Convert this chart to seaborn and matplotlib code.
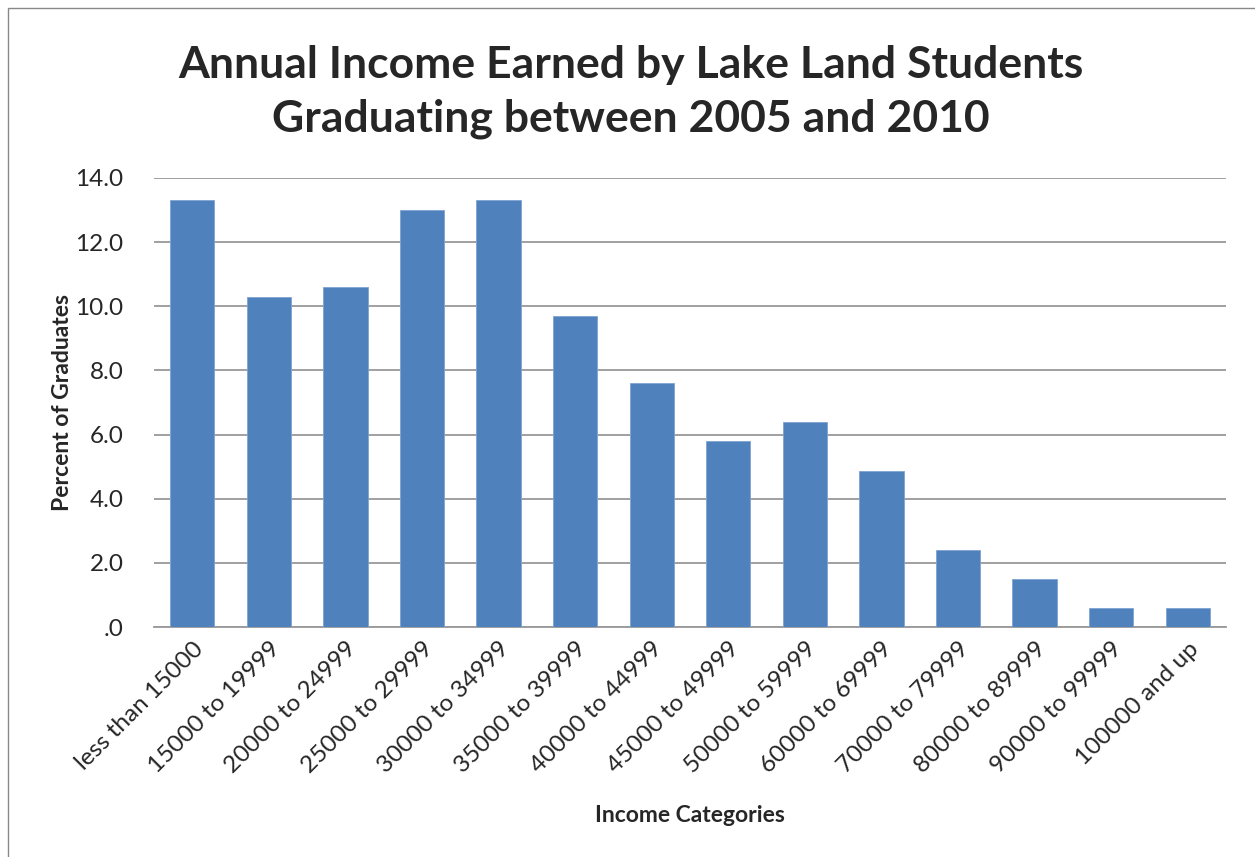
import numpy as np
import pandas as pd
import seaborn as sns
import matplotlib
import matplotlib.pyplot as plt
from matplotlib.patches import Rectangle

categories = ['less than 15000', '15000 to 19999', '20000 to 24999', '25000 to 29999',
              '30000 to 34999', '35000 to 39999', '40000 to 44999', '45000 to 49999',
              '50000 to 59999', '60000 to 69999', '70000 to 79999', '80000 to 89999',
              '90000 to 99999', '100000 and up']
percents = [13.3, 10.3, 10.6, 13.0, 13.3, 9.7, 7.6, 5.8, 6.4, 4.85, 2.4, 1.5, 0.6, 0.6]
yticks = [0, 2, 4, 6, 8, 10, 12, 14]
ytick_labels = ['.0', '2.0', '4.0', '6.0', '8.0', '10.0', '12.0', '14.0']

df = pd.DataFrame({'Income': categories, 'Percent': percents})

sns.set_style('white')
plt.rcParams['font.family'] = ['Lato', 'DejaVu Sans']

fig = plt.figure(figsize=(12.55, 8.57), dpi=100)
ax = fig.add_axes([154 / 1255, 1 - 627 / 857, (1226 - 154) / 1255, (627 - 178) / 857])

sns.barplot(x='Income', y='Percent', data=df, color='#4F81BD', width=0.58,
            saturation=1, edgecolor='#7FA3D3', linewidth=0.6, ax=ax, zorder=3)

ax.set_ylim(0, 14)
ax.set_xlim(-0.5, len(categories) - 0.5)
ax.set_yticks(yticks)
ax.set_yticklabels(ytick_labels, fontsize=17.5)
ax.yaxis.grid(True, color='#999999', linewidth=1.3, zorder=0)
ax.set_axisbelow(True)
for s in ['top', 'right', 'left']:
    ax.spines[s].set_visible(False)
ax.spines['bottom'].set_color('#999999')
ax.spines['bottom'].set_linewidth(1.3)
ax.tick_params(axis='y', length=0, pad=22)
ax.tick_params(axis='x', length=0, pad=8)
plt.setp(ax.get_xticklabels(), rotation=45, ha='right', rotation_mode='anchor', fontsize=17.5)

ax.set_xlabel('Income Categories', fontsize=16.5, fontweight='bold', labelpad=20)
ax.set_ylabel('Percent of Graduates', fontsize=16.5, fontweight='bold', labelpad=2)

fig.text(0.503, 0.893, 'Annual Income Earned by Lake Land Students\nGraduating between 2005 and 2010',
         ha='center', va='center', fontsize=32, fontweight='bold', linespacing=1.4)

fig.patches.append(Rectangle((8 / 1255, -0.01), 1.2, 1 - 8 / 857 + 0.01, transform=fig.transFigure,
                             fill=False, edgecolor='#888888', linewidth=1))

fig.savefig('out.png', dpi=100)
